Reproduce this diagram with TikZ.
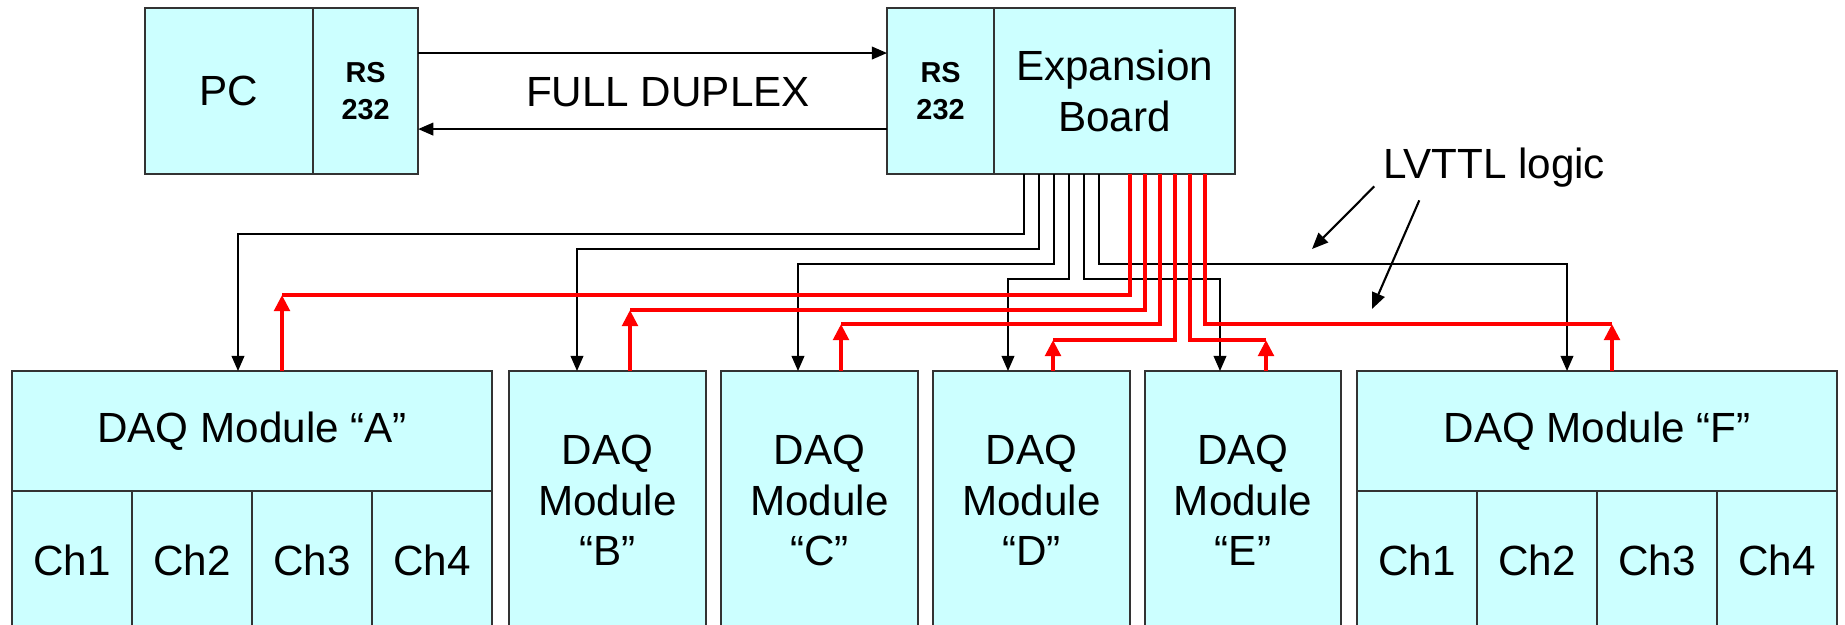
\documentclass[tikz,border=0pt]{standalone}
\usepackage{fontspec}
\setmainfont{Liberation Sans}
\usetikzlibrary{positioning, arrows.meta, calc}
\definecolor{boxcyan}{RGB}{204,255,255}

\begin{document}
\begin{tikzpicture}[
          x=0.01cm, y=-0.01cm,
          node distance=0cm,
          block/.style={draw=black!80, line width=0.6pt, fill=boxcyan, inner sep=0pt, outer sep=0pt, align=center, font=\fontsize{12}{14.4}\selectfont},
          port/.style={block, font=\bfseries\fontsize{8.2}{10.7}\selectfont},
          chan/.style={block, minimum width=1.2cm, minimum height=1.39cm, anchor=north},
          ctl/.style={black, line width=0.5pt, -{Triangle[length=4.3pt, width=3.6pt]}},
          wire/.style={red, line width=1.2pt},
          ack/.style={wire, -{Triangle[length=4.6pt, width=4.4pt]}},
          pointer/.style={black, line width=0.6pt, -{Triangle[length=4.6pt, width=3.8pt]}},
          lbl/.style={inner sep=0pt, font=\fontsize{12}{14.4}\selectfont}
      ]
      \useasboundingbox (0,0) rectangle (1845,624);

      \node[block, minimum width=1.68cm, minimum height=1.66cm, anchor=north west] (pc) at (145,8) {PC};
      \node[port, minimum width=1.05cm, minimum height=1.66cm, right=of pc] (pcrs) {RS\\232};

      \node[port, minimum width=1.07cm, minimum height=1.66cm, anchor=north west] (exprs) at (887,8) {RS\\232};
      \node[block, minimum width=2.41cm, minimum height=1.66cm, right=of exprs] (expb) {Expansion\\Board};

      \draw[ctl] ([yshift=0.38cm]pcrs.east) -- ([yshift=0.38cm]exprs.west);
      \draw[ctl] ([yshift=-0.38cm]exprs.west) -- ([yshift=-0.38cm]pcrs.east);
      \node[lbl] (duplex) at (668,92) {FULL DUPLEX};

      \node[block, minimum width=4.8cm, minimum height=1.2cm, anchor=north west] (modA) at (12,371) {DAQ Module “A”};
      \foreach \i in {1,...,4}
          \node[chan] (chA\i) at ($(modA.south west)+({120*\i-60},0)$) {Ch\i};

      \node[block, minimum width=1.97cm, minimum height=2.59cm, anchor=north west] (modB) at (509,371) {DAQ\\Module\\“B”};
      \node[block, minimum width=1.97cm, minimum height=2.59cm, anchor=north west] (modC) at (721,371) {DAQ\\Module\\“C”};
      \node[block, minimum width=1.97cm, minimum height=2.59cm, anchor=north west] (modD) at (933,371) {DAQ\\Module\\“D”};
      \node[block, minimum width=1.96cm, minimum height=2.59cm, anchor=north west] (modE) at (1145,371) {DAQ\\Module\\“E”};

      \node[block, minimum width=4.8cm, minimum height=1.2cm, anchor=north west] (modF) at (1357,371) {DAQ Module “F”};
      \foreach \i in {1,...,4}
          \node[chan] (chF\i) at ($(modF.south west)+({120*\i-60},0)$) {Ch\i};

      \foreach \m/\bx/\ly/\tx in {A/1024/234/238, B/1039/249/577, C/1054/264/798,
                                   D/1069/279/1008, E/1084/279/1220, F/1099/264/1567} {
          \draw[ctl] (expb.south -| \bx,0) |- (\tx,\ly) -- (mod\m.north -| \tx,0);
      }

      \foreach \m/\bx/\ly/\tx in {A/1130/295/282, B/1145/310/630, C/1160/324/841,
                                   D/1175/340/1053, E/1190/340/1266, F/1205/324/1612} {
          \draw[wire] (expb.south -| \bx,0) |- (\tx,\ly);
          \draw[ack] (mod\m.north -| \tx,0) -- (\tx,\ly);
      }

      \node[lbl] (lvttl) at (1494,168) {LVTTL logic};
      \coordinate (ptA) at (1312,249);
      \coordinate (ptB) at (1372,309);
      \draw[pointer] ($(lvttl.south west)+(-8,-2)$) -- (ptA);
      \draw[pointer] ($(lvttl.south west)+(37,12)$) -- (ptB);

      \end{tikzpicture}
\end{document}
